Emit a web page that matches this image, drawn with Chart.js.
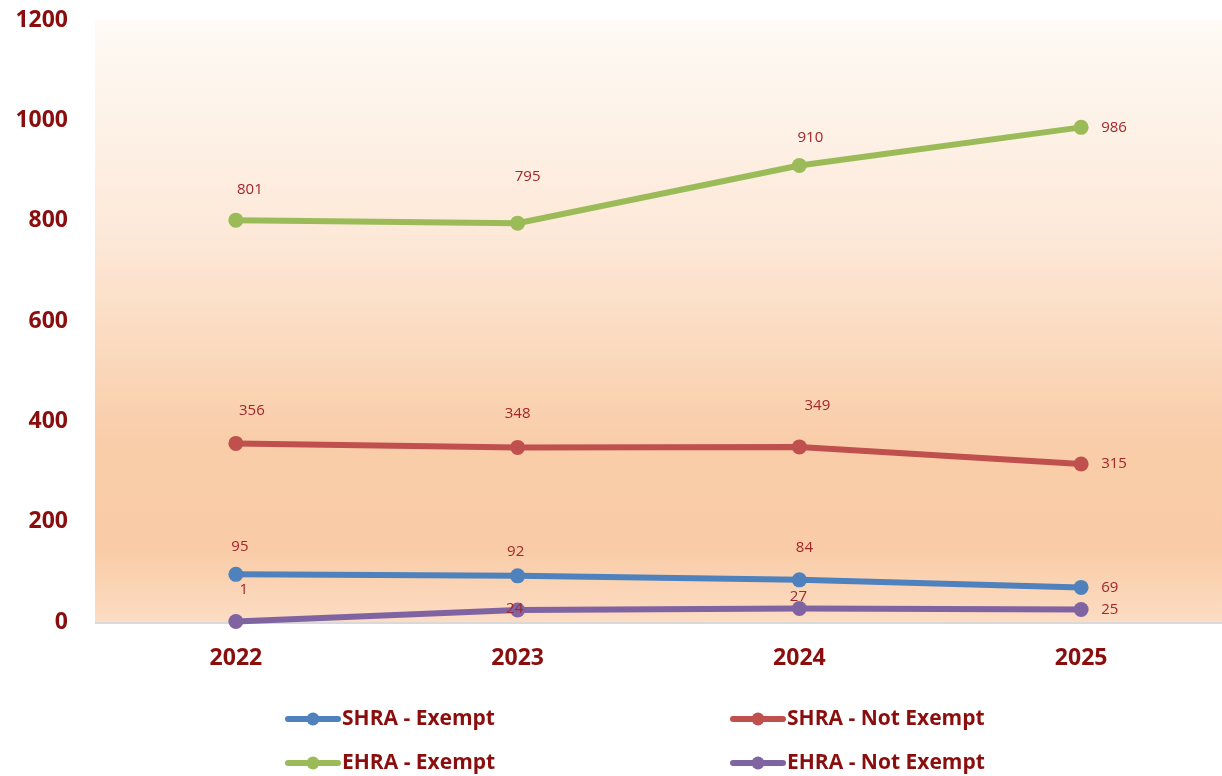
<!DOCTYPE html>
<html>
<head>
<meta charset="utf-8">
<script src="https://cdn.jsdelivr.net/npm/chart.js@4/dist/chart.umd.min.js"></script>
<style>
  html, body { margin: 0; padding: 0; background: #fff; }
  #wrap { width: 1222px; height: 776px; position: relative; }
</style>
</head>
<body>
<div id="wrap"><canvas id="chart" width="1222" height="776"></canvas></div>
<script>
// data
const years = ['2022', '2023', '2024', '2025'];
const shraExempt = [95, 92, 84, 69];
const shraNotExempt = [356, 348, 349, 315];
const ehraExempt = [801, 795, 910, 986];
const ehraNotExempt = [1, 24, 27, 25];
const yTicks = [0, 200, 400, 600, 800, 1000, 1200];

// label nudges (px) per series, per point: [dx, dy]
const labelNudge = [
  [[4, -28], [-2, -24], [5, -32], [20, 0]],
  [[16, -33], [0, -34], [18, -41], [20, 0]],
  [[14, -30], [10, -46], [11, -28], [20, 0]],
  [[8, -32], [-3, -1], [-1, -12], [20, 0]]
];

const darkRed = '#8b0e0e';
const labelRed = '#a3262a';
const fontFam = '"Open Sans", "DejaVu Sans", sans-serif';

const series = [
  { label: 'SHRA - Exempt', data: shraExempt, color: '#4f81bd' },
  { label: 'SHRA - Not Exempt', data: shraNotExempt, color: '#c0504d' },
  { label: 'EHRA - Exempt', data: ehraExempt, color: '#9bbb59' },
  { label: 'EHRA - Not Exempt', data: ehraNotExempt, color: '#8064a2' }
];

const bgPlugin = {
  id: 'bgGradient',
  beforeDraw(chart) {
    const { ctx, chartArea: a } = chart;
    const g = ctx.createLinearGradient(0, a.top, 0, a.bottom);
    g.addColorStop(0, '#fefaf5');
    g.addColorStop(0.35, '#fde9d9');
    g.addColorStop(0.7, '#f9cda9');
    g.addColorStop(0.88, '#f9cca7');
    g.addColorStop(1, '#fcdcc3');
    ctx.save();
    ctx.fillStyle = g;
    ctx.fillRect(a.left, a.top, a.right - a.left, a.bottom - a.top);
    ctx.strokeStyle = '#d9d9d9';
    ctx.lineWidth = 2;
    ctx.beginPath();
    ctx.moveTo(a.left, a.bottom + 1);
    ctx.lineTo(a.right, a.bottom + 1);
    ctx.stroke();
    ctx.restore();
  }
};

const labelPlugin = {
  id: 'pointLabels',
  afterDatasetsDraw(chart) {
    const ctx = chart.ctx;
    ctx.save();
    ctx.font = '15px ' + fontFam;
    ctx.fillStyle = labelRed;
    ctx.textBaseline = 'middle';
    chart.data.datasets.forEach((ds, i) => {
      chart.getDatasetMeta(i).data.forEach((pt, j) => {
        const [dx, dy] = labelNudge[i][j];
        ctx.textAlign = dx >= 20 ? 'left' : 'center';
        ctx.fillText(String(ds.data[j]), pt.x + dx, pt.y + dy);
      });
    });
    ctx.restore();
  }
};

const legendPlugin = {
  id: 'gridLegend',
  afterDraw(chart) {
    const ctx = chart.ctx;
    const cols = [285, 730];
    const rows = [719, 763];
    ctx.save();
    ctx.font = 'bold 21px ' + fontFam;
    ctx.textBaseline = 'middle';
    ctx.textAlign = 'left';
    chart.data.datasets.forEach((ds, i) => {
      const x = cols[i % 2];
      const y = rows[Math.floor(i / 2)];
      ctx.strokeStyle = ds.borderColor;
      ctx.lineWidth = 6;
      ctx.lineCap = 'round';
      ctx.beginPath();
      ctx.moveTo(x + 3, y);
      ctx.lineTo(x + 53, y);
      ctx.stroke();
      ctx.fillStyle = ds.borderColor;
      ctx.beginPath();
      ctx.arc(x + 28, y, 6.5, 0, Math.PI * 2);
      ctx.fill();
      ctx.fillStyle = darkRed;
      ctx.fillText(ds.label, x + 57, y);
    });
    ctx.restore();
  }
};

new Chart(document.getElementById('chart'), {
  type: 'line',
  data: {
    labels: years,
    datasets: series.map(s => ({
      label: s.label,
      data: s.data,
      borderColor: s.color,
      backgroundColor: s.color,
      pointBackgroundColor: s.color,
      pointBorderColor: s.color,
      pointBorderWidth: 0,
      borderWidth: 6,
      pointRadius: 7.5,
      pointHoverRadius: 7.5,
      tension: 0,
      fill: false,
      clip: false
    }))
  },
  options: {
    responsive: false,
    animation: false,
    layout: { autoPadding: false, padding: { top: 20, left: 0, right: -6, bottom: 100 } },
    plugins: {
      legend: { display: false },
      tooltip: { enabled: false }
    },
    scales: {
      x: {
        offset: true,
        grid: { display: false, drawTicks: false },
        border: { display: false },
        ticks: {
          color: darkRed,
          padding: 23,
          font: { family: fontFam, size: 23, weight: 'bold' }
        },
        afterFit(scale) {
          scale.height = 54;
          scale.paddingLeft = 0;
          scale.paddingRight = 0;
        }
      },
      y: {
        min: 0,
        max: 1200,
        grid: { display: false, drawTicks: false },
        border: { display: false },
        afterBuildTicks(scale) { scale.ticks = yTicks.map(v => ({ value: v })); },
        ticks: {
          color: darkRed,
          padding: 27,
          font: { family: fontFam, size: 23, weight: 'bold' },
          callback: v => String(v)
        },
        afterFit(scale) {
          scale.width = 95;
          scale.paddingTop = 0;
          scale.paddingBottom = 0;
        }
      }
    }
  },
  plugins: [bgPlugin, labelPlugin, legendPlugin]
});
</script>
</body>
</html>
